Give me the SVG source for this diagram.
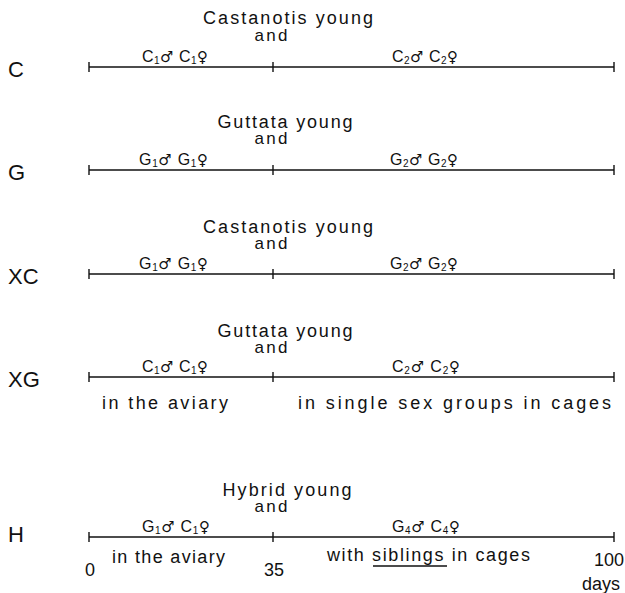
<svg xmlns="http://www.w3.org/2000/svg" width="625" height="593" viewBox="0 0 625 593">
<style>
text{font-family:"Liberation Sans","DejaVu Sans",sans-serif;fill:#111}
.row{font-size:22px}
.title{font-size:18px;text-anchor:middle}
.and{font-size:17px;text-anchor:middle}
.sex{font-size:16px}
.sub{font-size:10px}
.sym{font-family:"DejaVu Sans",sans-serif;font-size:15px}
.note{font-size:18px}
.num{font-size:18px}
line{stroke:#111;stroke-width:1.4}
</style>
<rect width="625" height="593" fill="#fff"/>
<g id="row-C">
<text class="row" x="8" y="77">C</text>
<text class="title" x="288" y="24" textLength="170" lengthAdjust="spacing">Castanotis young</text>
<text class="and" x="271" y="41" textLength="33" lengthAdjust="spacing">and</text>
<text class="sex" x="142" y="62" textLength="66" lengthAdjust="spacing">C<tspan class="sub" dy="2">1</tspan><tspan class="sym" dy="-2">♂</tspan> C<tspan class="sub" dy="2">1</tspan><tspan class="sym" dy="-2">♀</tspan></text>
<text class="sex" x="392" y="62" textLength="66" lengthAdjust="spacing">C<tspan class="sub" dy="2">2</tspan><tspan class="sym" dy="-2">♂</tspan> C<tspan class="sub" dy="2">2</tspan><tspan class="sym" dy="-2">♀</tspan></text>
</g>
<g id="row-G">
<text class="row" x="8" y="180">G</text>
<text class="title" x="285" y="128" textLength="135" lengthAdjust="spacing">Guttata young</text>
<text class="and" x="271" y="144" textLength="33" lengthAdjust="spacing">and</text>
<text class="sex" x="139" y="165" textLength="69" lengthAdjust="spacing">G<tspan class="sub" dy="2">1</tspan><tspan class="sym" dy="-2">♂</tspan> G<tspan class="sub" dy="2">1</tspan><tspan class="sym" dy="-2">♀</tspan></text>
<text class="sex" x="390" y="165" textLength="68" lengthAdjust="spacing">G<tspan class="sub" dy="2">2</tspan><tspan class="sym" dy="-2">♂</tspan> G<tspan class="sub" dy="2">2</tspan><tspan class="sym" dy="-2">♀</tspan></text>
</g>
<g id="row-XC">
<text class="row" x="8" y="284">XC</text>
<text class="title" x="288" y="233" textLength="170" lengthAdjust="spacing">Castanotis young</text>
<text class="and" x="271" y="249" textLength="33" lengthAdjust="spacing">and</text>
<text class="sex" x="139" y="269" textLength="69" lengthAdjust="spacing">G<tspan class="sub" dy="2">1</tspan><tspan class="sym" dy="-2">♂</tspan> G<tspan class="sub" dy="2">1</tspan><tspan class="sym" dy="-2">♀</tspan></text>
<text class="sex" x="390" y="269" textLength="68" lengthAdjust="spacing">G<tspan class="sub" dy="2">2</tspan><tspan class="sym" dy="-2">♂</tspan> G<tspan class="sub" dy="2">2</tspan><tspan class="sym" dy="-2">♀</tspan></text>
</g>
<g id="row-XG">
<text class="row" x="8" y="387">XG</text>
<text class="title" x="285" y="337" textLength="135" lengthAdjust="spacing">Guttata young</text>
<text class="and" x="271" y="353" textLength="33" lengthAdjust="spacing">and</text>
<text class="sex" x="142" y="372" textLength="66" lengthAdjust="spacing">C<tspan class="sub" dy="2">1</tspan><tspan class="sym" dy="-2">♂</tspan> C<tspan class="sub" dy="2">1</tspan><tspan class="sym" dy="-2">♀</tspan></text>
<text class="sex" x="392" y="372" textLength="68" lengthAdjust="spacing">C<tspan class="sub" dy="2">2</tspan><tspan class="sym" dy="-2">♂</tspan> C<tspan class="sub" dy="2">2</tspan><tspan class="sym" dy="-2">♀</tspan></text>
<text class="note" x="102" y="409" textLength="126" lengthAdjust="spacing">in the aviary</text>
<text class="note" x="298" y="409" textLength="313" lengthAdjust="spacing">in single sex groups in cages</text>
</g>
<g id="row-H">
<text class="row" x="8" y="542">H</text>
<text class="title" x="287" y="496" textLength="129" lengthAdjust="spacing">Hybrid young</text>
<text class="and" x="271" y="512" textLength="33" lengthAdjust="spacing">and</text>
<text class="sex" x="142" y="532" textLength="68" lengthAdjust="spacing">G<tspan class="sub" dy="2">1</tspan><tspan class="sym" dy="-2">♂</tspan> C<tspan class="sub" dy="2">1</tspan><tspan class="sym" dy="-2">♀</tspan></text>
<text class="sex" x="392" y="532" textLength="68" lengthAdjust="spacing">G<tspan class="sub" dy="2">4</tspan><tspan class="sym" dy="-2">♂</tspan> C<tspan class="sub" dy="2">4</tspan><tspan class="sym" dy="-2">♀</tspan></text>
<text class="note" x="112" y="563" textLength="113" lengthAdjust="spacing">in the aviary</text>
<text class="note" x="327" y="561" textLength="203" lengthAdjust="spacing">with siblings in cages</text>
<line x1="373" y1="566" x2="447" y2="566"/>
<text class="num" x="85" y="576">0</text>
<text class="num" x="264" y="576">35</text>
<text class="num" x="594" y="566">100</text>
<text class="num" x="582" y="590">days</text>
</g>
<g id="connectors">
<line x1="89" y1="67" x2="614" y2="67"/>
<line x1="89" y1="62" x2="89" y2="72"/><line x1="273" y1="62" x2="273" y2="72"/><line x1="614" y1="62" x2="614" y2="72"/>
<line x1="89" y1="170" x2="614" y2="170"/>
<line x1="89" y1="165" x2="89" y2="175"/><line x1="273" y1="165" x2="273" y2="175"/><line x1="614" y1="165" x2="614" y2="175"/>
<line x1="89" y1="274" x2="614" y2="274"/>
<line x1="89" y1="269" x2="89" y2="279"/><line x1="273" y1="269" x2="273" y2="279"/><line x1="614" y1="269" x2="614" y2="279"/>
<line x1="89" y1="377" x2="614" y2="377"/>
<line x1="89" y1="372" x2="89" y2="382"/><line x1="273" y1="372" x2="273" y2="382"/><line x1="614" y1="372" x2="614" y2="382"/>
<line x1="89" y1="537" x2="614" y2="537"/>
<line x1="89" y1="532" x2="89" y2="542"/><line x1="273" y1="532" x2="273" y2="542"/><line x1="614" y1="532" x2="614" y2="542"/>
</g>
</svg>
